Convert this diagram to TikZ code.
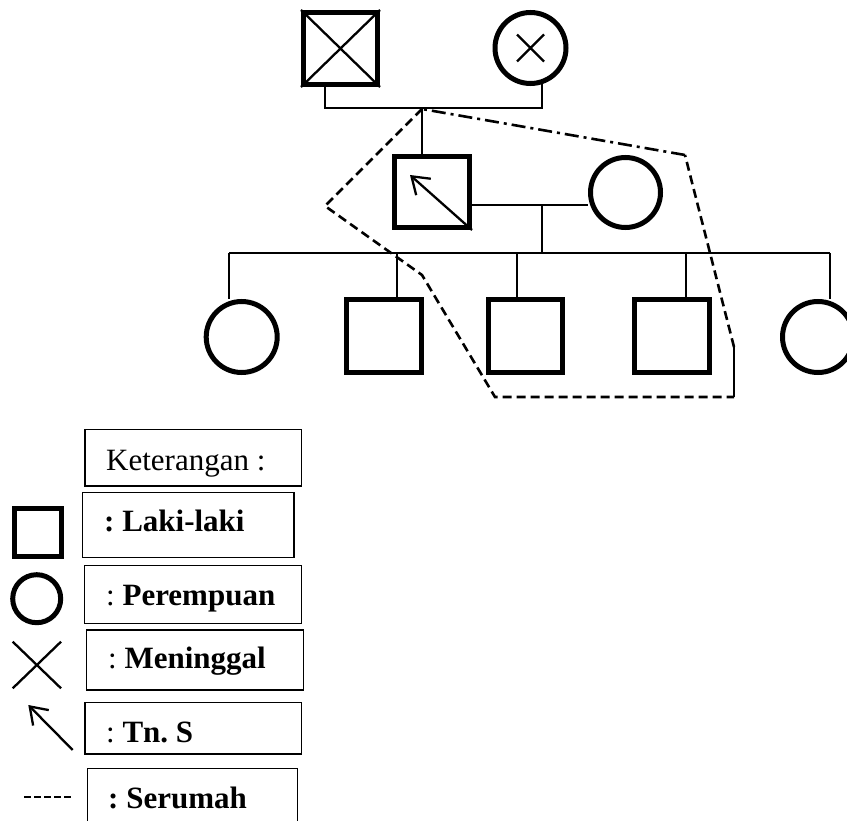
\documentclass[tikz,border=0pt]{standalone}
\usepackage{fontspec}
\setmainfont{Liberation Serif}
\usetikzlibrary{arrows.meta}
\frenchspacing
\tikzset{
  shapeb/.style={draw, line width=5pt, inner sep=0pt},
  male/.style={shapeb, rectangle},
  female/.style={shapeb, circle},
  conn/.style={line width=2.3pt},
  housed/.style={line width=2.6pt, dash pattern=on 9pt off 5pt},
  housedd/.style={line width=2.6pt, dash pattern=on 14pt off 5pt on 3pt off 5pt},
  lbox/.style={draw, line width=1.4pt, rectangle, inner sep=0pt},
  ltext/.style={anchor=base west, inner sep=0pt, font=\fontsize{31pt}{37pt}\selectfont},
  tip/.style={-{Straight Barb[length=16pt,width=22pt]}},
}
\begin{document}
\begin{tikzpicture}[x=1pt,y=-1pt]
\useasboundingbox (0,0) rectangle (847,821);
% generation I
\node[male, minimum width=74pt, minimum height=72pt] (gf) at (340.5,48.5) {};
\node[female, minimum size=71pt] (gm) at (530.5,48) {};
\draw[conn] (gf.north west) -- (gf.south east) (gf.north east) -- (gf.south west);
\draw[conn] ([shift={(-13.5,-13.5)}]gm.center) -- ([shift={(13.5,13.5)}]gm.center)
            ([shift={(13.5,-13.5)}]gm.center) -- ([shift={(-13.5,13.5)}]gm.center);
\coordinate (b1) at (422,108);
\draw[conn] ([xshift=-15.5pt]gf.south) |- (b1) -| (gm.-72);
% generation II
\node[male, minimum width=75pt, minimum height=71pt] (son) at (432,192) {};
\node[female, minimum size=70pt] (wife) at (625.5,192.5) {};
\draw[conn] (b1) -- (b1 |- son.north);
\coordinate (tnS) at (410,175);
\draw[conn, tip] (son.south east) -- (tnS);
\coordinate (b2) at (542,205);
\coordinate (b3) at (542,253);
\draw[conn] (son.east |- b2) -- (wife.west |- b2);
\draw[conn] (b2) -- (b3);
% generation III
\node[female, minimum size=71pt] (c1) at (241.7,337) {};
\node[male, minimum width=75pt, minimum height=73pt] (c2) at (384,336) {};
\node[male, minimum width=74pt, minimum height=73pt] (c3) at (525.7,336) {};
\node[male, minimum width=75pt, minimum height=73pt] (c4) at (672,336) {};
\node[female, minimum size=71pt] (c5) at (818,337) {};
\coordinate (kl) at (229,253);
\coordinate (kr) at (830,253);
\draw[conn] (kl) -- (kr);
\draw[conn] (kl) -- (kl |- c1.north);
\draw[conn] ([xshift=13pt]c2.north) -- ([xshift=13pt]c2.north |- kl);
\draw[conn] ([xshift=-8.7pt]c3.north) -- ([xshift=-8.7pt]c3.north |- kl);
\draw[conn] ([xshift=14pt]c4.north) -- ([xshift=14pt]c4.north |- kl);
\draw[conn] (kr) -- (kr |- c5.north);
% household boundary
\coordinate (d1) at (422,109);
\coordinate (d2) at (325,206);
\coordinate (d3) at (422,275);
\coordinate (d4) at (495,397);
\coordinate (d5) at (734,397);
\coordinate (d6) at (734,347);
\coordinate (d7) at (685,155);
\draw[housed] (d1) -- (d2) -- (d3) -- (d4) -- (d5);
\draw[line width=2.6pt] (d5) -- (d6);
\draw[housed] (d6) -- (d7);
\draw[housedd] (d7) -- (d1);
% legend
\node[lbox, minimum width=216.7pt, minimum height=56.7pt] (k0) at (193.3,457.7) {};
\node[ltext] (t0) at (106,470) {Keterangan :};
\node[lbox, minimum width=211.3pt, minimum height=64.6pt] (k1) at (188.3,525) {};
\node[ltext] (t1) at (104,531.7) {\textbf{: Laki-laki}};
\node[lbox, minimum width=217.4pt, minimum height=57.6pt] (k2) at (193,594.5) {};
\node[ltext] (t2) at (106,605) {: \textbf{Perempuan}};
\node[lbox, minimum width=216.6pt, minimum height=60pt] (k3) at (195,660) {};
\node[ltext] (t3) at (108,668) {: \textbf{Meninggal}};
\node[lbox, minimum width=216.7pt, minimum height=51.7pt] (k4) at (193.3,728.2) {};
\node[ltext] (t4) at (106,742.7) {: \textbf{Tn. S}};
\node[lbox, minimum width=210.4pt, minimum height=72pt] (k5) at (192.5,804.3) {};
\node[ltext] (t5) at (108,808) {\textbf{: Serumah}};
% legend symbols
\node[male, minimum width=47pt, minimum height=48pt] (sq) at (37.8,532.7) {};
\node[female, minimum size=48pt] (ci) at (36.7,598.7) {};
\coordinate (x1) at (12.7,641.7);
\coordinate (x2) at (61,688.3);
\coordinate (x3) at (61,641.7);
\coordinate (x4) at (12.7,688.3);
\draw[conn] (x1) -- (x2) (x3) -- (x4);
\coordinate (a1) at (72.7,750);
\coordinate (a2) at (28.3,705);
\draw[conn, tip] (a1) -- (a2);
\coordinate (s1) at (24,796.7);
\coordinate (s2) at (71.7,796.7);
\draw[line width=2.3pt, dash pattern=on 7pt off 3pt] (s1) -- (s2);
\end{tikzpicture}
\end{document}
